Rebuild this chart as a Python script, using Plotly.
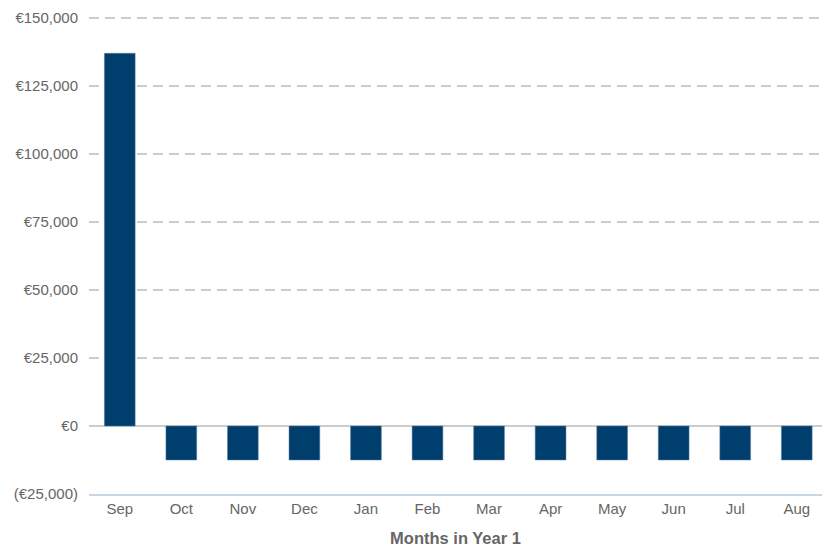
import plotly.graph_objects as go

months = ["Sep", "Oct", "Nov", "Dec", "Jan", "Feb", "Mar", "Apr", "May", "Jun", "Jul", "Aug"]
cash_flow = [137000, -12500, -12500, -12500, -12500, -12500, -12500, -12500, -12500, -12500, -12500, -12500]
y_tick_vals = [-25000, 0, 25000, 50000, 75000, 100000, 125000, 150000]
y_tick_text = ["(€25,000)", "€0", "€25,000", "€50,000", "€75,000", "€100,000", "€125,000", "€150,000"]

fig = go.Figure(go.Bar(
    x=months, y=cash_flow,
    marker=dict(color="#003f6d", line=dict(color="#5a7fa3", width=0.5)),
    width=0.5,
))

fig.update_layout(
    width=822, height=550,
    margin=dict(l=89, r=0, t=16, b=56),
    plot_bgcolor="white", paper_bgcolor="white",
    font=dict(family="Liberation Sans, Arial, sans-serif", size=15, color="#666666"),
    showlegend=False,
    xaxis=dict(
        range=[-0.5, 11.41],
        showgrid=False, showline=True, linecolor="#c8d6e8", linewidth=2,
        ticks="", tickfont=dict(size=15, color="#666666"),
        title=dict(text="<b>Months in Year 1</b>", font=dict(size=16.5, color="#666666"), standoff=16),
    ),
    yaxis=dict(
        range=[-25000, 150700], tickvals=y_tick_vals, ticktext=y_tick_text,
        showgrid=True, gridcolor="#cccccc", gridwidth=1.5, griddash="10px,6px",
        zeroline=True, zerolinecolor="#cccccc", zerolinewidth=1.5,
        ticks="", ticklabelstandoff=10, tickfont=dict(size=15, color="#666666"),
    ),
)

fig.write_html("out.html")
